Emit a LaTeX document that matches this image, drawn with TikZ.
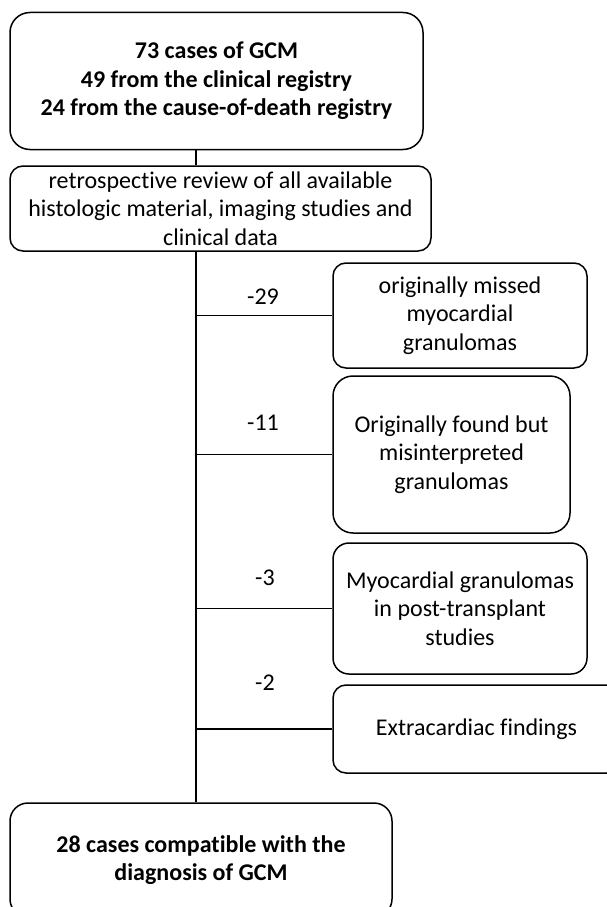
\documentclass[tikz,border=0pt]{standalone}
\usepackage{fontspec}
\setmainfont{Carlito}[Ligatures=NoCommon]
\tikzset{
  box/.style={draw,line width=1.5pt,rounded corners=13pt,align=center,inner sep=0pt,font=\fontsize{24}{28.5}\selectfont},
  num/.style={font=\fontsize{24}{28}\selectfont},
  link/.style={line width=1.5pt}
}

\begin{document}
\begin{tikzpicture}[x=1pt,y=-1pt]
\useasboundingbox (0,0) rectangle (606,907);
\node[box,rounded corners=20pt,minimum width=413pt,minimum height=137pt,font=\fontsize{24}{28.5}\selectfont\bfseries] (cases) at (216.5,81) {73 cases of GCM\\49 from the clinical registry\\24 from the cause-of-death registry};
\node[box,minimum width=421pt,minimum height=85pt] (review) at (220.5,208.5) {retrospective review of all available\\histologic material, imaging studies and\\clinical data};
\node[box,minimum width=254pt,minimum height=105pt] (missed) at (460,315.5) {originally missed\\myocardial\\granulomas};
\node[box,rounded corners=20pt,minimum width=237pt,minimum height=157pt] (misread) at (451.5,454.5) {Originally found but\\misinterpreted\\granulomas};
\node[box,rounded corners=16pt,minimum width=254pt,minimum height=131pt] (transpl) at (460,608.5) {Myocardial granulomas\\in post-transplant\\studies};
\node[box,minimum width=287pt,minimum height=88pt] (extra) at (476.5,729) {Extracardiac findings};
\node[box,rounded corners=18pt,minimum width=382pt,minimum height=114pt,font=\fontsize{24}{28.5}\selectfont\bfseries] (compat) at (201,860) {28 cases compatible with the\\diagnosis of GCM};
\coordinate (trunk) at (196,0);
\draw[link] (cases.south -| trunk) -- (review.north -| trunk);
\draw[link] (review.south -| trunk) -- (compat.north -| trunk);
\draw[link] (missed.west -| trunk) -- (missed.west);
\draw[link] (misread.west -| trunk) -- (misread.west);
\draw[link] (transpl.west -| trunk) -- (transpl.west);
\draw[link] (extra.west -| trunk) -- (extra.west);
\node[num] (n29) at (263,297) {-29};
\node[num] (n11) at (263,423) {-11};
\node[num] (n3) at (265,578) {-3};
\node[num] (n2) at (265,683) {-2};
\end{tikzpicture}
\end{document}
